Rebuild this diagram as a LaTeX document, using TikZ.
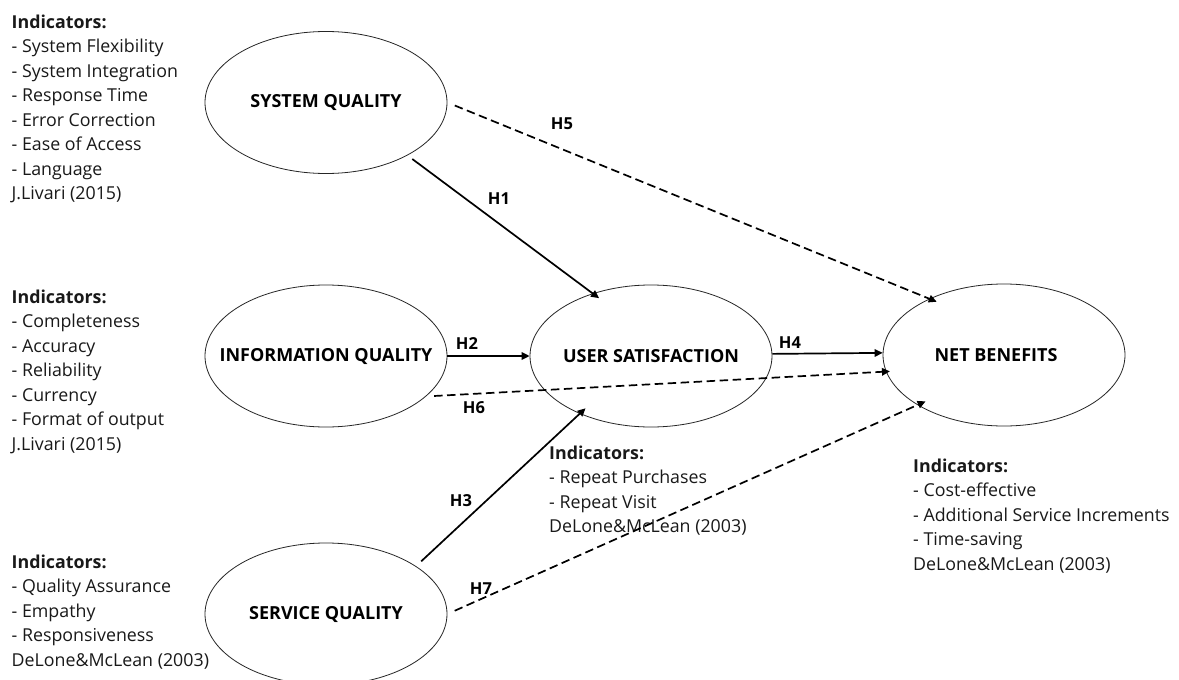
\documentclass[tikz,border=0pt]{standalone}
\usepackage{fontspec}
\setmainfont{Open Sans}
\usetikzlibrary{shapes.geometric,arrows.meta}
\newcommand{\ctr}[1]{\makebox[0pt][c]{#1}}
\tikzset{
  construct/.style={draw=black!85, line width=0.8pt, ellipse, minimum width=242pt,
    minimum height=142pt, inner sep=0pt, font={\fontsize{18}{20}\selectfont\bfseries}},
  indic/.style={anchor=north west, inner sep=0pt, align=left,
    font={\fontsize{17.8}{24.5}\selectfont}, text=black!90},
  hyp/.style={inner sep=0pt, font={\fontsize{16.5}{18}\selectfont\bfseries}},
  link/.style={line width=1.7pt, -{Triangle[length=8pt,width=7.5pt]}},
  dlink/.style={link, dash pattern=on 8.5pt off 4.5pt}
}
\begin{document}
\begin{tikzpicture}[x=1pt,y=-1pt]
\useasboundingbox[fill=white] (0,0) rectangle (1179,680);

\node[construct] (sys) at (326,102.5) {\ctr{SYSTEM QUALITY}};
\node[construct] (inf) at (326,356) {\ctr{INFORMATION QUALITY}};
\node[construct] (us) at (651,356) {\ctr{USER SATISFACTION}};
\node[construct] (nb) at (1004,355) {\ctr{NET BENEFITS\hspace{16pt}}};
\node[construct] (sq) at (326,614) {\ctr{SERVICE QUALITY}};

\node[indic] (t1) at (11.5,14.5) {\textbf{Indicators:}\\- System Flexibility\\- System Integration\\- Response Time\\- Error Correction\\- Ease of Access\\- Language\\J.Livari (2015)};
\node[indic] (t2) at (11.5,289.5) {\textbf{Indicators:}\\- Completeness\\- Accuracy\\- Reliability\\- Currency\\- Format of output\\J.Livari (2015)};
\node[indic] (t3) at (11.5,554.5) {\textbf{Indicators:}\\- Quality Assurance\\- Empathy\\- Responsiveness\\DeLone\&McLean (2003)};
\node[indic] (t4) at (549,445.5) {\textbf{Indicators:}\\- Repeat Purchases\\- Repeat Visit\\DeLone\&McLean (2003)};
\node[indic] (t5) at (913,458.5) {\textbf{Indicators:}\\- Cost-effective\\- Additional Service Increments\\- Time-saving\\DeLone\&McLean (2003)};

\draw[link, shorten <=6pt, shorten >=-8pt] (sys.-33) -- (us.133);
\draw[dlink, shorten <=8pt, shorten >=-8pt] (sys.0) -- (nb.143.5);
\draw[link] (inf.0) -- (us.180);
\draw[link] (us.1) -- (nb.179);
\draw[dlink, shorten <=8pt, shorten >=-4pt] (inf.-22.4) -- (nb.188);
\draw[link, shorten <=7pt, shorten >=-8pt] (sq.28) -- (us.-141.9);
\draw[dlink, shorten <=8pt, shorten >=-9pt] (sq.0) -- (nb.210.9);

\node[hyp] (h1) at (499,199) {H1};
\node[hyp] (h5) at (562,124) {H5};
\node[hyp] (h2) at (467,344) {H2};
\node[hyp] (h4) at (790,343) {H4};
\node[hyp] (h6) at (474,408) {H6};
\node[hyp] (h3) at (461,501) {H3};
\node[hyp] (h7) at (481,589) {H7};
\end{tikzpicture}
\end{document}
